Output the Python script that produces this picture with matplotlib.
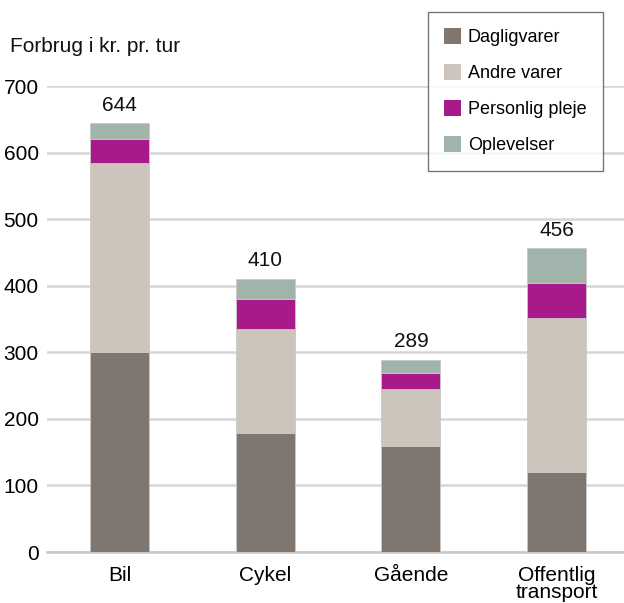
import matplotlib
matplotlib.use("Agg")
import matplotlib.pyplot as plt
import numpy as np
from matplotlib.patches import Patch

plt.rcParams['font.family'] = ['Liberation Sans Narrow', 'Liberation Sans', 'DejaVu Sans']

categories = ["Bil", "Cykel", "Gående", "Offentlig\ntransport"]
series_names = ["Dagligvarer", "Andre varer", "Personlig pleje", "Oplevelser"]
dagligvarer = [300, 179, 159, 120]
andre_varer = [284, 156, 86, 232]
personlig_pleje = [36, 45, 24, 52]
oplevelser = [24, 30, 20, 52]
totals = [644, 410, 289, 456]
colors = ["#7f7670", "#cdc5bb", "#a8198a", "#a0b4ab"]
yticks = [0, 100, 200, 300, 400, 500, 600, 700]

fig = plt.figure(figsize=(6.24, 6.03), dpi=100)
ax = fig.add_axes([47/624, 1-552/603, 1-47/624, (552-86)/603])

x = np.arange(len(categories))
bottom = np.zeros(len(categories))
for vals, c in zip([dagligvarer, andre_varer, personlig_pleje, oplevelser], colors):
    ax.bar(x, vals, width=0.405, bottom=bottom, color=c, edgecolor="#c8c8c8", linewidth=0.6, zorder=3)
    bottom += np.array(vals)

for xi, t in zip(x, totals):
    ax.text(xi, t + 13, str(t), ha="center", va="bottom", fontsize=15, color="#111111")

ax.set_ylim(0, 700)
ax.set_xlim(-0.498, 3.463)
ax.set_yticks(yticks)
ax.set_xticks(x)
ax.set_xticklabels(categories, fontsize=15, linespacing=0.85)
ax.tick_params(axis="y", length=0, labelsize=15, pad=6)
ax.tick_params(axis="x", length=0, pad=10)
ax.yaxis.grid(True, color="#d6d6d6", linewidth=1.8, zorder=0)
ax.set_axisbelow(True)
for s in ["left", "right", "top"]:
    ax.spines[s].set_visible(False)
ax.spines["bottom"].set_color("#c8c8c8")
ax.spines["bottom"].set_linewidth(1.8)

fig.text(10/624, 1-47/603, "Forbrug i kr. pr. tur", fontsize=15, ha="left", va="center", color="#111111")

handles = [Patch(facecolor=c, edgecolor="none") for c in colors]
leg = fig.legend(handles, series_names, loc="upper left", bbox_to_anchor=(428/624, 1-12/603),
                 fontsize=13, frameon=True, fancybox=False, edgecolor="#555555",
                 handlelength=0.95, handleheight=0.95, handletextpad=0.35,
                 labelspacing=1.0, borderpad=0.9, borderaxespad=0)
leg.get_frame().set_linewidth(1.0)

fig.savefig("out.png", dpi=100)
